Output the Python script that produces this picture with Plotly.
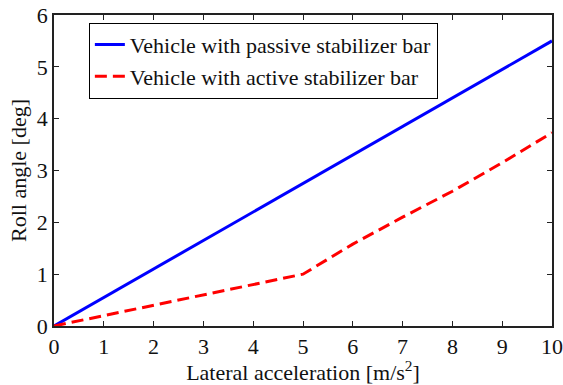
import plotly.graph_objects as go

# Lateral acceleration [m/s^2]
accel = [0, 1, 2, 3, 4, 5, 6, 7, 8, 9, 10]
# Roll angle [deg]
roll_passive = [0, 0.55, 1.1, 1.65, 2.2, 2.75, 3.3, 3.85, 4.4, 4.95, 5.5]
roll_active = [0, 0.2, 0.4, 0.6, 0.8, 1.0, 1.58, 2.1, 2.6, 3.15, 3.73]

x_ticks = list(range(0, 11))
y_ticks = list(range(0, 7))

font_family = "Liberation Serif, Times New Roman, serif"
fsize = 22

fig = go.Figure()
fig.add_trace(go.Scatter(
    x=accel, y=roll_passive, mode="lines",
    name="Vehicle with passive stabilizer bar",
    line=dict(color="#0000ff", width=3),
))
fig.add_trace(go.Scatter(
    x=accel, y=roll_active, mode="lines",
    name="Vehicle with active stabilizer bar",
    line=dict(color="#ff0000", width=3, dash="12px,6px"),
))

axis_common = dict(
    showgrid=False, zeroline=False, showline=True, mirror="ticks",
    linecolor="#222222", linewidth=1.5, automargin=False,
    ticks="inside", ticklen=5, tickcolor="#222222", tickwidth=1,
    tickfont=dict(family=font_family, size=fsize, color="#111111"),
)

fig.update_layout(
    width=563, height=385,
    margin=dict(l=54, r=11, t=15, b=59, autoexpand=False),
    paper_bgcolor="white", plot_bgcolor="white",
    font=dict(family=font_family, size=fsize, color="#111111"),
    xaxis=dict(range=[0, 10], tickvals=x_ticks,
               title=dict(text="Lateral acceleration [m/s<sup>2</sup>]",
                          font=dict(family=font_family, size=fsize), standoff=2),
               **axis_common),
    yaxis=dict(range=[0, 6], tickvals=y_ticks,
               title=dict(text="Roll angle [deg]",
                          font=dict(family=font_family, size=fsize), standoff=4),
               **axis_common),
    legend=dict(x=0.07, y=0.975, xanchor="left", yanchor="top",
                bordercolor="black", borderwidth=1, bgcolor="white",
                font=dict(family=font_family, size=fsize),
                tracegroupgap=0, itemwidth=30),
    showlegend=True,
)

fig.write_html("out.html")
